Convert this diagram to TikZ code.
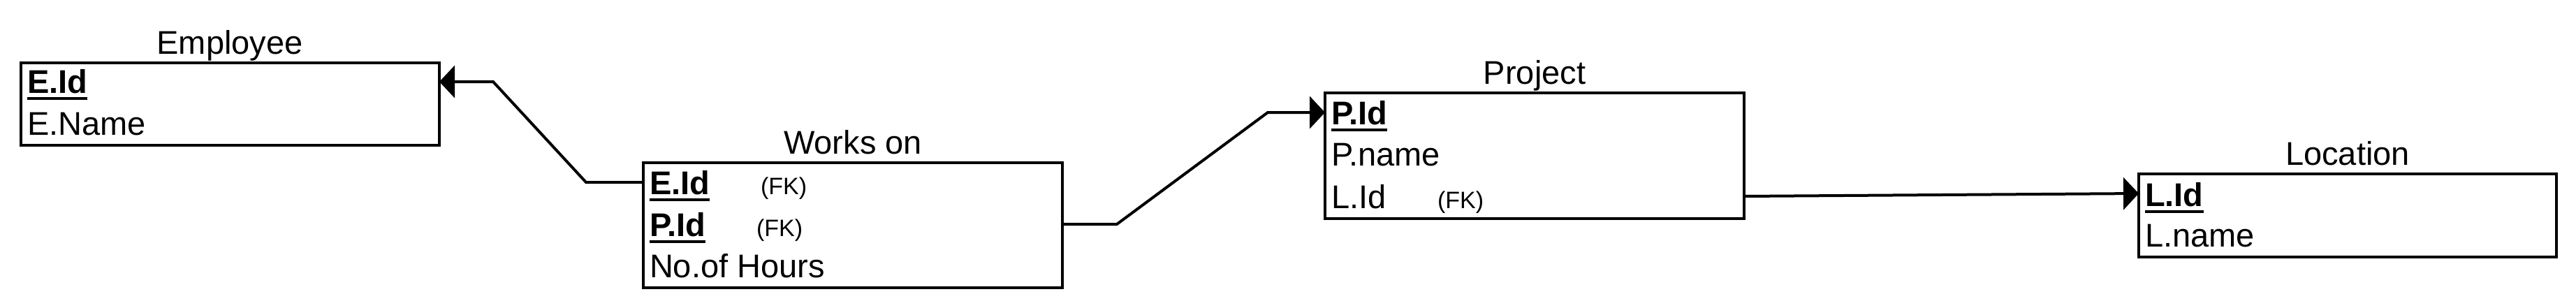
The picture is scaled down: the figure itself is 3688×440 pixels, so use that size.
\documentclass[tikz,border=0pt]{standalone}
\usepackage{fontspec}
\setmainfont{Liberation Sans}
\usetikzlibrary{arrows.meta}
\tikzset{
  entity/.style={draw, line width=4pt, rectangle, inner sep=0pt, outer sep=0pt, anchor=north west, minimum width=600pt},
  attr/.style={anchor=base west, inner sep=0pt, outer sep=0pt, font=\fontsize{47}{56}\selectfont},
  keyattr/.style={anchor=base west, inner sep=0pt, outer sep=0pt, font=\fontsize{47}{56}\selectfont\bfseries},
  fktext/.style={anchor=base west, inner sep=0pt, outer sep=0pt, font=\fontsize{34}{40}\selectfont},
  title/.style={anchor=base, inner sep=0pt, outer sep=0pt, font=\fontsize{47}{56}\selectfont},
  conn/.style={line width=4pt},
  fkarrow/.style={conn, -{Triangle[length=22pt,width=46pt]}},
  keyline/.style={line width=4pt}
}
\begin{document}
\begin{tikzpicture}[x=1pt,y=-1pt]
\useasboundingbox (0,0) rectangle (3688,440);

% Employee
\node[entity, minimum width=599pt, minimum height=118pt] (emp) at (30,90) {};
\node[title] (empt) at (329,77) {Employee};
\node[keyattr] (empid) at (39,133) {E.Id};
\node[attr] (empname) at (39,193) {E.Name};
\draw[keyline] ([yshift=-8pt]empid.base west) -- ([yshift=-8pt]empid.base east);

% Works on
\node[entity, minimum width=600pt, minimum height=179pt] (wo) at (921,233) {};
\node[title] (wot) at (1221,220) {Works on};
\node[keyattr] (woeid) at (930,278) {E.Id};
\node[fktext] (wofk1) at (1089,278) {(FK)};
\node[keyattr] (wopid) at (930,338) {P.Id};
\node[fktext] (wofk2) at (1083,338) {(FK)};
\node[attr] (wohours) at (930,397) {No.of Hours};
\draw[keyline] ([yshift=-8pt]woeid.base west) -- ([yshift=-8pt]woeid.base east);
\draw[keyline] ([yshift=-8pt]wopid.base west) -- ([yshift=-8pt]wopid.base east);

% Project
\node[entity, minimum width=600pt, minimum height=180pt] (proj) at (1897,133) {};
\node[title] (projt) at (2197,120) {Project};
\node[keyattr] (projid) at (1906,178) {P.Id};
\node[attr] (projname) at (1906,237) {P.name};
\node[attr] (projlid) at (1906,298) {L.Id};
\node[fktext] (projfk) at (2058,298) {(FK)};
\draw[keyline] ([yshift=-8pt]projid.base west) -- ([yshift=-8pt]projid.base east);

% Location
\node[entity, minimum width=598pt, minimum height=119pt] (loc) at (3062,249) {};
\node[title] (loct) at (3361,236) {Location};
\node[keyattr] (locid) at (3071,295) {L.Id};
\node[attr] (locname) at (3071,353) {L.name};
\draw[keyline] ([yshift=-8pt]locid.base west) -- ([yshift=-8pt]locid.base east);

% Connectors
\coordinate (c1a) at (839,261);
\coordinate (c1b) at (706,117);
\draw[fkarrow] (wo.west |- c1a) -- (c1a) -- (c1b) -- (emp.east |- c1b);

\coordinate (c2a) at (1599,321);
\coordinate (c2b) at (1815,161);
\draw[fkarrow] (wo.east |- c2a) -- (c2a) -- (c2b) -- (proj.west |- c2b);

\coordinate (c3a) at (0,281);
\coordinate (c3b) at (0,277);
\draw[fkarrow] (proj.east |- c3a) -- (loc.west |- c3b);
\end{tikzpicture}
\end{document}
